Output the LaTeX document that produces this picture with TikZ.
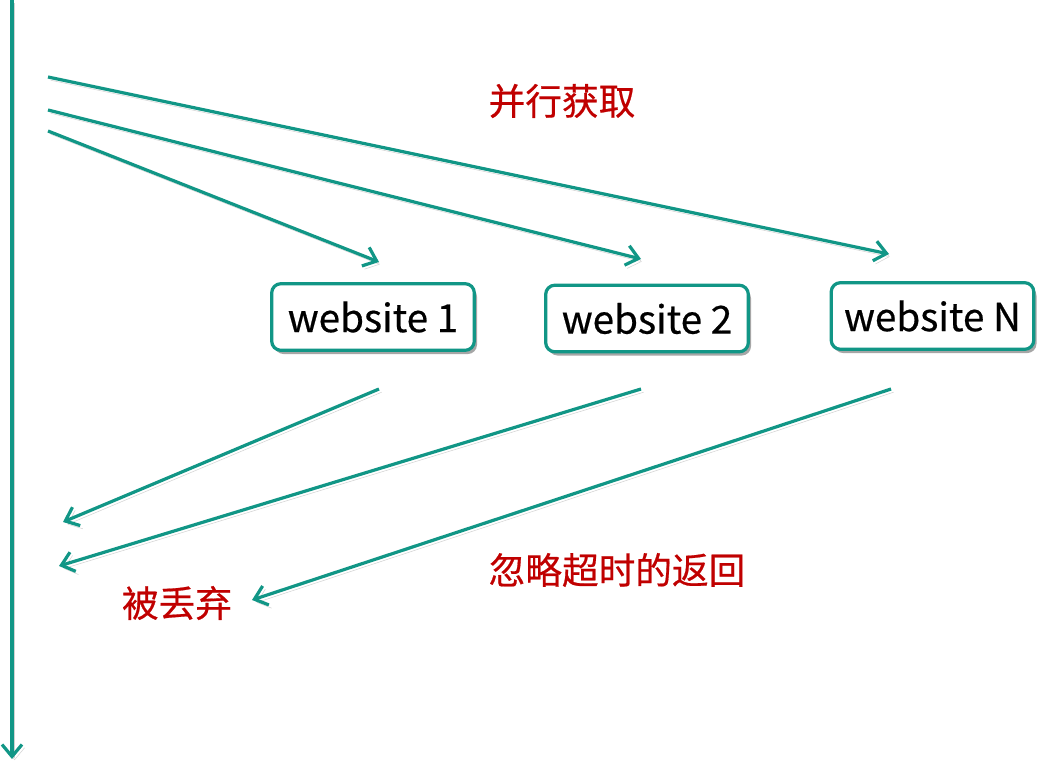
\documentclass[tikz,border=0pt]{standalone}
\usepackage{fontspec}
\setmainfont{Noto Sans CJK SC}[FakeBold=0.5]
\usetikzlibrary{arrows.meta,shadows}
\definecolor{tealc}{RGB}{17,150,134}
\definecolor{redt}{RGB}{192,0,0}
\begin{document}
\begin{tikzpicture}[x=0.75pt,y=-0.75pt,
  conn/.style={draw=tealc,line width=2.4pt,
    -{Straight Barb[length=9pt,width=15pt,line width=2.4pt]},
    preaction={draw=black!35,opacity=0.5,transform canvas={shift={(2pt,-2.4pt)}}}},
  site/.style={draw=tealc,line width=2.4pt,fill=white,rounded corners=7pt,
    minimum width=152pt,minimum height=50pt,inner sep=0pt,
    font=\fontsize{29}{33}\selectfont,
    drop shadow={shadow xshift=2pt,shadow yshift=-2.8pt,opacity=0.35,fill=black}},
  lbl/.style={text=redt,font=\fontsize{27.5}{32}\selectfont}]
\useasboundingbox (0,0) rectangle (1049,770);
% time axis
\coordinate (t0) at (12,0);
\coordinate (t1) at (12,759);
\draw[conn] (t0) -- (t1);
% boxes
\node[site] (w1) at (373,317) {website 1};
\node[site] (w2) at (647,318.5) {website 2};
\node[site] (wN) at (932.5,316) {website N};
% request arrows
\coordinate (s1) at (48,131);
\coordinate (s2) at (48,110);
\coordinate (s3) at (48,77);
\coordinate (e1) at (379,262);
\coordinate (e2) at (641,259);
\coordinate (e3) at (889,254);
\draw[conn] (s1) -- (e1);
\draw[conn] (s2) -- (e2);
\draw[conn] (s3) -- (e3);
% return arrows
\coordinate (r1) at (379,389);
\coordinate (r2) at (641,389);
\coordinate (r3) at (891,389);
\coordinate (d1) at (63,522);
\coordinate (d2) at (59,566);
\coordinate (d3) at (252,600);
\draw[conn] (r1) -- (d1);
\draw[conn] (r2) -- (d2);
\draw[conn] (r3) -- (d3);
% labels
\node[lbl] (lp) at (562,101) {并行获取};
\node[lbl] (ld) at (177,603) {被丢弃};
\node[lbl] (li) at (617,570) {忽略超时的返回};
\end{tikzpicture}
\end{document}
